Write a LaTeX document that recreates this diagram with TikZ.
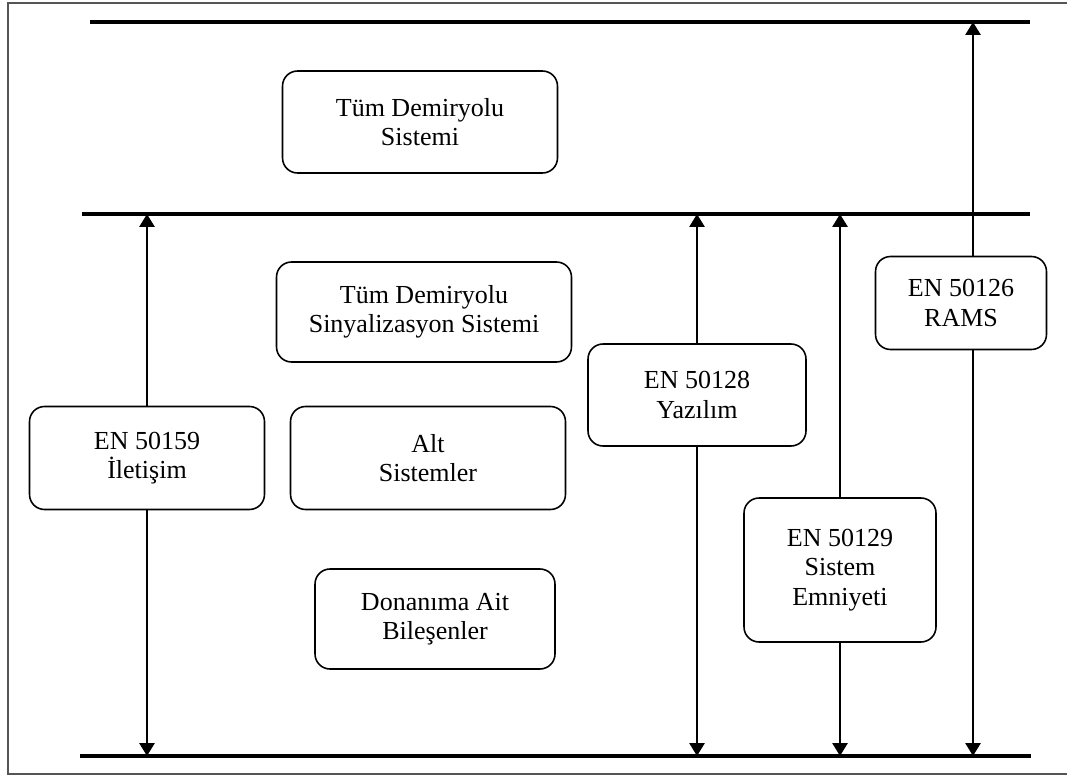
\documentclass[tikz,border=0pt]{standalone}
\usepackage{fontspec}
\setmainfont{Liberation Serif}
\usepackage{tikz}
\usetikzlibrary{arrows.meta, positioning, calc}
\definecolor{framegray}{RGB}{85, 85, 85}

\begin{document}
\begin{tikzpicture}[x=0.02cm, y=-0.02cm, >={Triangle[width=0.3cm, length=0.26cm]},
    box/.style={draw, line width=0.9pt, rounded corners=0.3cm, align=center,
                font=\fontsize{14.8}{16.6}\selectfont, inner sep=0pt},
    level/.style={line width=2.2pt},
    arr/.style={->, line width=1.6pt}]
  \useasboundingbox (0,0) rectangle (1067,776);

  % outer frame (open on the right)
  \draw[framegray, line width=1.1pt] (1067,3) -- (8,3) -- (8,774) -- (1067,774);

  % level lines
  \coordinate (topL) at (90,22);    \coordinate (topR) at (1030,22);
  \coordinate (midL) at (82,214);   \coordinate (midR) at (1030,214);
  \coordinate (botL) at (80,756);   \coordinate (botR) at (1031,756);
  \draw[level] (topL) -- (topR);
  \draw[level] (midL) -- (midR);
  \draw[level] (botL) -- (botR);

  % system levels
  \node[box, minimum width=5.5cm, minimum height=2.04cm] (sys) at (420,122)
    {Tüm Demiryolu\\Sistemi};
  \node[box, minimum width=5.9cm, minimum height=2.0cm] (sig) at (424,312)
    {Tüm Demiryolu\\Sinyalizasyon Sistemi};
  \node[box, minimum width=5.5cm, minimum height=2.06cm] (sub) at (428,458)
    {Alt\\Sistemler};
  \node[box, minimum width=4.8cm, minimum height=2.0cm] (hw) at (435,619)
    {Donanıma Ait\\Bileşenler};

  % standards
  \node[box, minimum width=4.7cm, minimum height=2.06cm] (en59) at (147,458)
    {EN 50159\\İletişim};
  \node[box, minimum width=4.36cm, minimum height=2.04cm] (en28) at (697,395)
    {EN 50128\\Yazılım};
  \node[box, minimum width=3.84cm, minimum height=2.88cm] (en29) at (840,570)
    {EN 50129\\Sistem\\Emniyeti};
  \node[box, minimum width=3.42cm, minimum height=1.86cm] (en26) at (961,303)
    {EN 50126\\RAMS};

  % scope arrows
  \draw[arr] (en59.north) -- (en59.north |- midL);
  \draw[arr] (en59.south) -- (en59.south |- botL);
  \draw[arr] (en28.north) -- (en28.north |- midL);
  \draw[arr] (en28.south) -- (en28.south |- botL);
  \draw[arr] (en29.north) -- (en29.north |- midL);
  \draw[arr] (en29.south) -- (en29.south |- botL);
  \draw[arr] ([xshift=0.24cm]en26.north) -- ([xshift=0.24cm]en26.north |- topL);
  \draw[arr] ([xshift=0.24cm]en26.south) -- ([xshift=0.24cm]en26.south |- botL);
\end{tikzpicture}
\end{document}
